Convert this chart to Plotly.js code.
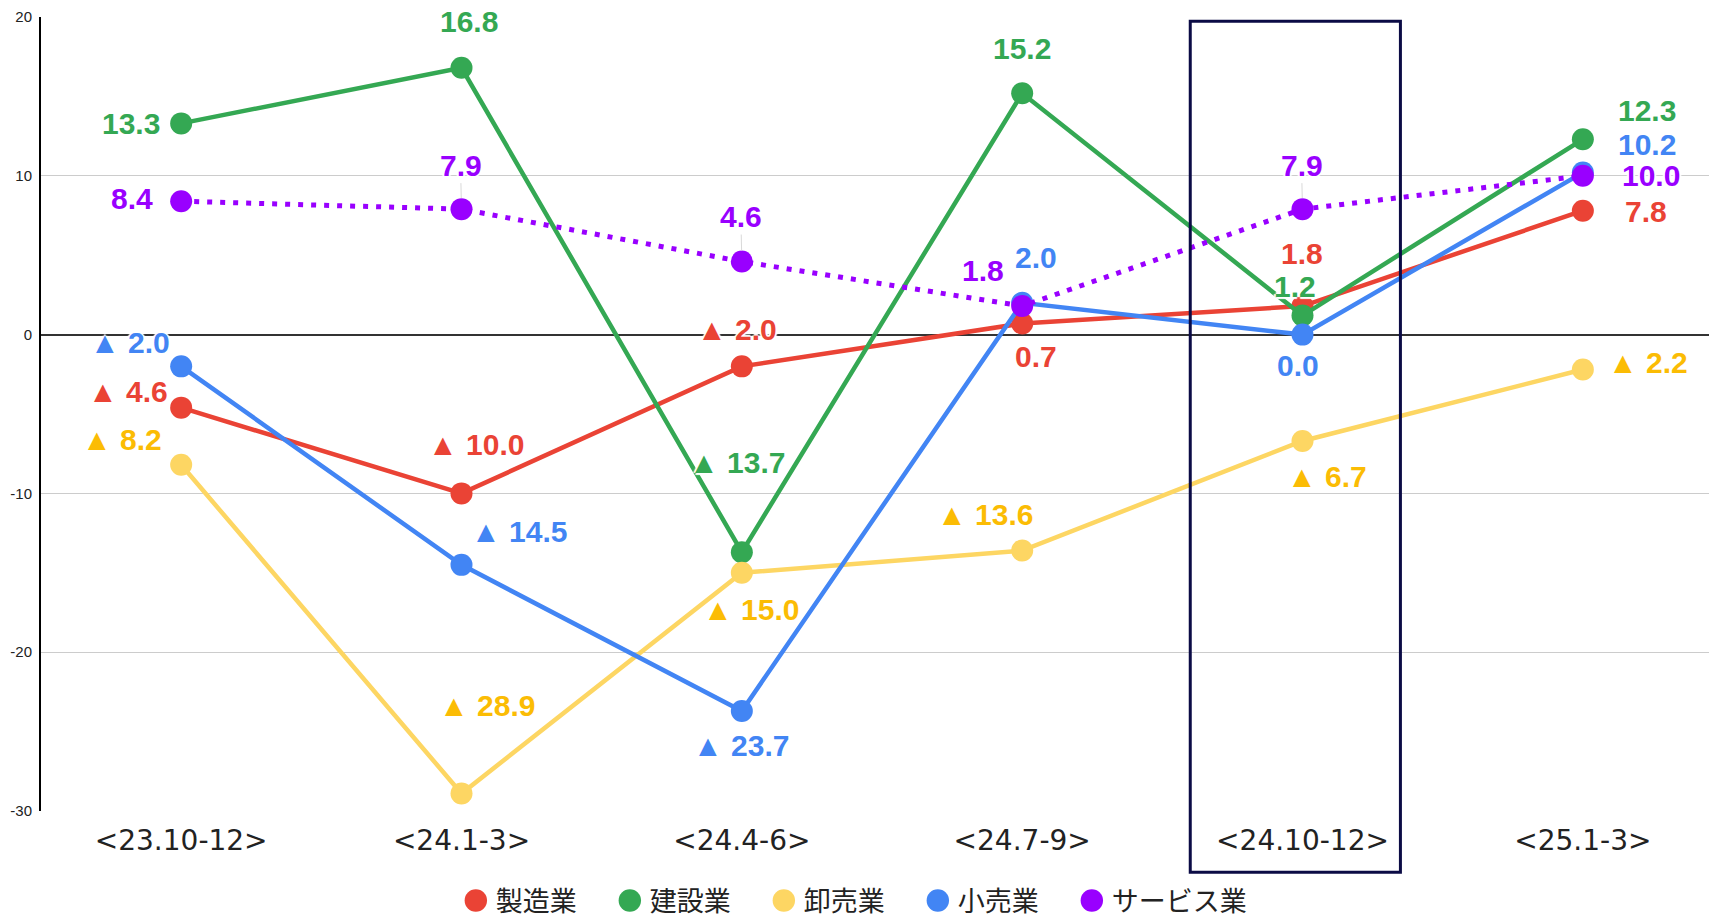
<!DOCTYPE html>
<html>
<head>
<meta charset="utf-8">
<script src="https://cdn.plot.ly/plotly-3.0.1.min.js"></script>
<style>
  html, body { margin: 0; padding: 0; background: #fff; }
  #chart { width: 1709px; height: 922px; }
  /* larger dots in the legend, and no clipping of the last entry */
  #chart .legend .legendpoints path.scatterpts { transform: translate(20px, 0px) scale(1.4); }
  #chart .legend .scrollbox { clip-path: none !important; }
</style>
</head>
<body>
<div id="chart"></div>
<script>
// Quarterly periods on the x axis
const periods = ['<23.10-12>', '<24.1-3>', '<24.4-6>', '<24.7-9>', '<24.10-12>', '<25.1-3>'];

// Series names
const seriesNames = ['製造業', '建設業', '卸売業', '小売業', 'サービス業'];

// Values per industry
const manufacturing = [-4.6, -10.0, -2.0, 0.7, 1.8, 7.8];
const construction  = [13.3, 16.8, -13.7, 15.2, 1.2, 12.3];
const wholesale     = [-8.2, -28.9, -15.0, -13.6, -6.7, -2.2];
const retail        = [-2.0, -14.5, -23.7, 2.0, 0.0, 10.2];
const services      = [8.4, 7.9, 4.6, 1.8, 7.9, 10.0];

// Y axis ticks
const yTicks = [-30, -20, -10, 0, 10, 20];

// Styling for each series
const styles = [
  { line: '#EA4335', text: '#EA4335', dash: 'solid', width: 4.5 },
  { line: '#34A853', text: '#34A853', dash: 'solid', width: 4.5 },
  { line: '#FDD663', text: '#FBBC04', dash: 'solid', width: 4.5 },
  { line: '#4285F4', text: '#4285F4', dash: 'solid', width: 4.5 },
  { line: '#9900FF', text: '#9900FF', dash: '5px,8px', width: 5 }
];

// Pixel offsets of each value label from its point [dx, dy]
const labelOffsets = [
  [[-53, -16], [14, -49], [-5, -37], [14, 33], [-1, -53], [63, 1]],
  [[-50, 0], [7, -46], [-5, -90], [0, -45], [-8, -29], [64, -29]],
  [[-59, -25], [25, -88], [9, 37], [-37, -36], [24, 35], [65, -7]],
  [[-51, -24], [57, -33], [-1, 35], [14, -45], [-5, 31], [64, -28]],
  [[-49, -3], [-1, -44], [-1, -45], [-39, -36], [-1, -44], [68, 0]]
];
// Labels that keep a faint leader line to their point
const leaderLines = [
  [false, false, false, false, false, false],
  [false, false, false, false, false, false],
  [false, false, false, false, false, false],
  [false, false, false, false, false, false],
  [false, true, true, false, true, false]
];

const allSeries = [manufacturing, construction, wholesale, retail, services];

// Negative values are written with a leading ▲
function formatValue(v) {
  const s = Math.abs(v).toFixed(1);
  return v < 0 ? '▲ ' + s : s;
}

const lineTraces = allSeries.map((vals, i) => ({
  type: 'scatter',
  mode: 'lines+markers',
  name: seriesNames[i],
  x: periods,
  y: vals,
  line: { color: styles[i].line, width: styles[i].width, dash: styles[i].dash },
  marker: { color: styles[i].line, size: 22 },
  hoverinfo: 'x+y+name',
  cliponaxis: false,
  showlegend: false,
  legendgroup: seriesNames[i]
}));

// Dot-only entries for the legend
const legendTraces = seriesNames.map((name, i) => ({
  type: 'scatter',
  mode: 'markers',
  name: name,
  x: [null],
  y: [null],
  marker: { color: styles[i].line, size: 16 },
  legendgroup: name,
  hoverinfo: 'skip'
}));

const halo = '2px 0 1px #fff, -2px 0 1px #fff, 0 2px 1px #fff, 0 -2px 1px #fff';

const annotations = [];
allSeries.forEach((vals, i) => {
  vals.forEach((v, j) => {
    const off = labelOffsets[i][j];
    annotations.push({
      x: j, y: v, xref: 'x', yref: 'y',
      text: formatValue(v),
      showarrow: true,
      ax: off[0], ay: off[1],
      arrowhead: 0, arrowwidth: 1, standoff: 11,
      arrowcolor: leaderLines[i][j] ? '#d9d9d9' : 'rgba(0,0,0,0)',
      font: { family: 'Liberation Sans, Arial, sans-serif', size: 30, weight: 700, color: styles[i].text, shadow: halo }
    });
  });
});

const layout = {
  width: 1709,
  height: 922,
  margin: { l: 41, r: 0, t: 17, b: 111 },
  paper_bgcolor: '#fff',
  plot_bgcolor: '#fff',
  showlegend: true,
  legend: {
    orientation: 'h',
    xref: 'container', yref: 'container',
    x: 0.492, xanchor: 'center',
    y: 0.0228, yanchor: 'middle',
    font: { family: 'Noto Sans CJK JP, sans-serif', size: 27, color: '#222' },
    entrywidth: 109,
    traceorder: 'normal'
  },
  xaxis: {
    type: 'category',
    range: [-0.5, 5.45],
    showgrid: false,
    zeroline: false,
    showline: false,
    ticks: '',
    ticklabelstandoff: 10,
    automargin: false,
    tickfont: { family: 'DejaVu Sans, sans-serif', size: 28, color: '#222' },
    fixedrange: true
  },
  yaxis: {
    range: [-30, 20],
    tickvals: yTicks,
    ticktext: yTicks.map(String),
    showgrid: true,
    gridcolor: '#cccccc',
    gridwidth: 1,
    zeroline: true,
    zerolinecolor: '#333333',
    zerolinewidth: 1.5,
    showline: true,
    linecolor: '#000',
    linewidth: 2,
    ticks: '',
    ticklabelstandoff: 4,
    automargin: false,
    tickfont: { family: 'Liberation Sans, Arial, sans-serif', size: 15, color: '#222' },
    fixedrange: true
  },
  shapes: [{
    type: 'rect',
    xref: 'paper', yref: 'paper',
    x0: 0.689, x1: 0.815,
    y0: -0.077, y1: 0.9945,
    line: { color: '#0B0B45', width: 3 },
    fillcolor: 'rgba(0,0,0,0)',
    layer: 'above'
  }],
  annotations: annotations
};

Plotly.newPlot('chart', lineTraces.concat(legendTraces), layout, { displayModeBar: false, responsive: false });
</script>
</body>
</html>
